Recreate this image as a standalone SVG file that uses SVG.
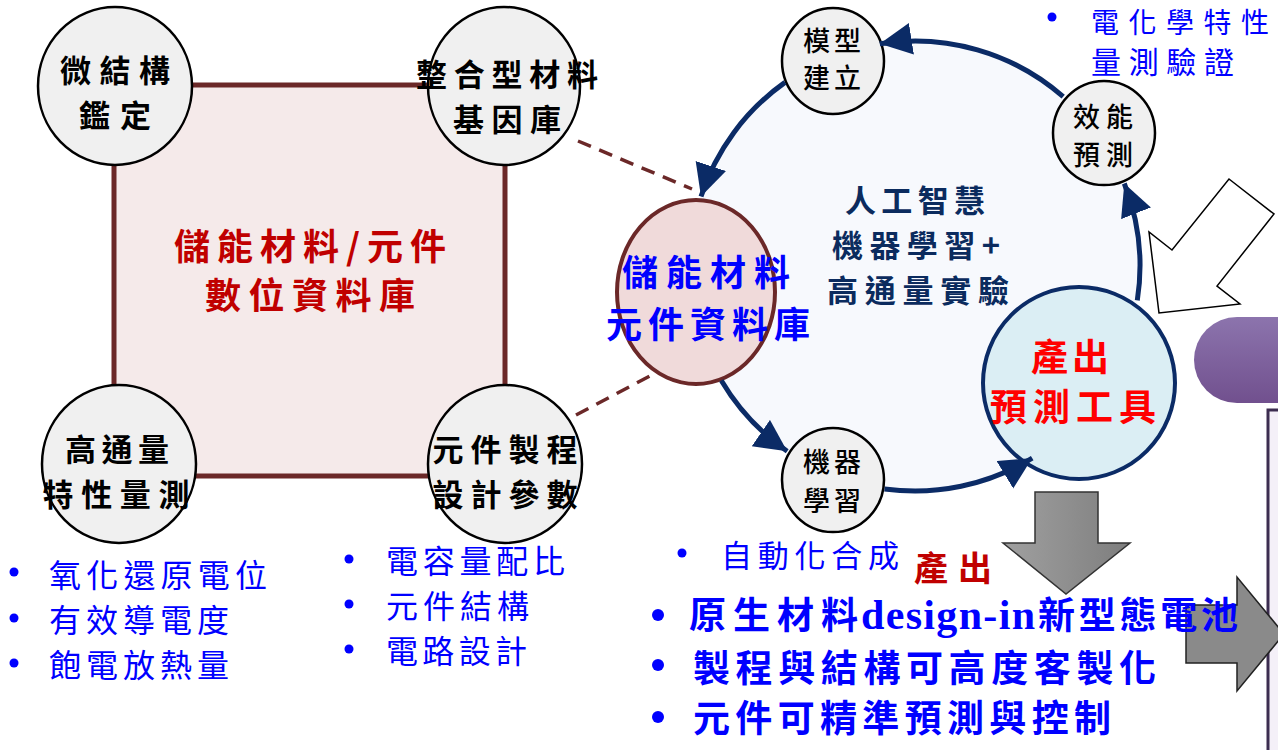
<svg xmlns="http://www.w3.org/2000/svg" width="1278" height="750" viewBox="0 0 1278 750">
<style>
.cjk{font-family:"Noto Sans CJK TC","Noto Sans CJK SC",sans-serif}
.node{fill:#f0f0f0;stroke:#000;stroke-width:2.5}
.lbl{font-family:"Noto Sans CJK TC",sans-serif;fill:#000;text-anchor:middle}
.blue{font-family:"Noto Sans CJK TC",sans-serif;fill:#0000ff}
.arc{fill:none;stroke:#0b2b66;stroke-width:5;marker-end:url(#ah)}
.dash{stroke:#6b2828;stroke-width:3.5;stroke-dasharray:14 9;fill:none}
.dot{fill:#0000ff}
</style>
<defs>
<marker id="ah" markerUnits="userSpaceOnUse" markerWidth="36" markerHeight="34" refX="32" refY="16" orient="auto">
<path d="M0,0 L32,16 L0,32 z" fill="#0b2b66"/>
</marker>
<linearGradient id="purp" x1="0" y1="0" x2="0" y2="1">
<stop offset="0" stop-color="#8c74ad"/><stop offset="1" stop-color="#71508e"/>
</linearGradient>
<linearGradient id="gray" x1="0" y1="0" x2="1" y2="0">
<stop offset="0" stop-color="#a0a0a0"/><stop offset="1" stop-color="#7e7e7e"/>
</linearGradient>
</defs>
<rect width="1278" height="750" fill="#fff"/>

<!-- right side decorations -->
<g id="purple-bar"><rect x="1194" y="317" width="140" height="86" rx="43" fill="url(#purp)"/></g>
<g id="side-box"><rect x="1268" y="410" width="40" height="400" fill="#f4f0f8" stroke="#3c2d50" stroke-width="3"/></g>
<g id="hollow-arrow"><polygon points="1229,179 1274,214 1217,286 1240,304 1159,313 1149,232 1172,250" fill="#fff" stroke="#000" stroke-width="1.5"/></g>
<g id="down-arrow"><polygon points="1035,492 1098,492 1098,543 1130,543 1066,594 1003,543 1035,543" fill="url(#gray)" stroke="#333" stroke-width="1.5"/></g>
<g id="right-arrow"><polygon points="1186,605 1237,605 1237,577 1284,634 1237,691 1237,663 1186,663" fill="#8a8a8a" stroke="#222" stroke-width="1.5"/></g>

<!-- cycle background -->
<circle cx="915" cy="266" r="225" fill="#f7f9fd"/>

<!-- left database square -->
<g id="db-square">
<rect x="114" y="85" width="391" height="391" fill="#f5eaea" stroke="#6b2828" stroke-width="5"/>
<text class="cjk" x="310" y="260" font-size="36" font-weight="bold" fill="#c00000" text-anchor="middle" textLength="272" lengthAdjust="spacing">儲能材料/元件</text>
<text class="cjk" x="310" y="309" font-size="36" font-weight="bold" fill="#c00000" text-anchor="middle" textLength="210" lengthAdjust="spacing">數位資料庫</text>
</g>

<g id="connectors">
<line class="dash" x1="578" y1="141" x2="692" y2="189"/>
<line class="dash" x1="576" y1="415" x2="665" y2="368"/>
</g>

<g id="n-micro"><ellipse class="node" cx="115" cy="86" rx="77" ry="79"/>
<text class="lbl" x="115" y="82" font-size="31" font-weight="bold" textLength="110" lengthAdjust="spacing">微結構</text>
<text class="lbl" x="115" y="127" font-size="31" font-weight="bold" textLength="72" lengthAdjust="spacing">鑑定</text></g>
<g id="n-gene"><ellipse class="node" cx="504" cy="86" rx="76" ry="79"/>
<text class="lbl" x="507" y="86" font-size="31" font-weight="bold" textLength="182" lengthAdjust="spacing">整合型材料</text>
<text class="lbl" x="507" y="131" font-size="31" font-weight="bold" textLength="108" lengthAdjust="spacing">基因庫</text></g>
<g id="n-ht"><ellipse class="node" cx="119" cy="464" rx="77" ry="79"/>
<text class="lbl" x="117" y="461" font-size="31" font-weight="bold" textLength="104" lengthAdjust="spacing">高通量</text>
<text class="lbl" x="116" y="506" font-size="31" font-weight="bold" textLength="147" lengthAdjust="spacing">特性量測</text></g>
<g id="n-proc"><ellipse class="node" cx="505" cy="464" rx="77" ry="79"/>
<text class="lbl" x="505" y="461" font-size="31" font-weight="bold" textLength="145" lengthAdjust="spacing">元件製程</text>
<text class="lbl" x="505" y="506" font-size="31" font-weight="bold" textLength="145" lengthAdjust="spacing">設計參數</text></g>

<g id="n-model"><ellipse class="node" cx="833" cy="61" rx="51" ry="53"/>
<text class="lbl" x="832" y="51" font-size="27" font-weight="500" textLength="58" lengthAdjust="spacing">模型</text>
<text class="lbl" x="832" y="88" font-size="27" font-weight="500" textLength="58" lengthAdjust="spacing">建立</text></g>
<g id="n-perf"><ellipse class="node" cx="1104" cy="133" rx="51" ry="52"/>
<text class="lbl" x="1103" y="127" font-size="27" font-weight="500" textLength="60" lengthAdjust="spacing">效能</text>
<text class="lbl" x="1103" y="165" font-size="27" font-weight="500" textLength="60" lengthAdjust="spacing">預測</text></g>
<g id="n-ml"><ellipse class="node" cx="833" cy="480" rx="51" ry="52"/>
<text class="lbl" x="832" y="472" font-size="27" font-weight="500" textLength="58" lengthAdjust="spacing">機器</text>
<text class="lbl" x="832" y="511" font-size="27" font-weight="500" textLength="58" lengthAdjust="spacing">學習</text></g>
<g id="n-db"><ellipse cx="696" cy="292" rx="79" ry="92" fill="#f0dada" stroke="#6b2828" stroke-width="4"/>
<text class="blue" x="706" y="286" font-size="36" font-weight="bold" text-anchor="middle" textLength="168" lengthAdjust="spacing">儲能材料</text>
<text class="blue" x="708" y="338" font-size="36" font-weight="bold" text-anchor="middle" textLength="204" lengthAdjust="spacing">元件資料庫</text></g>
<g id="n-tool"><circle cx="1079" cy="383" r="96" fill="#dbeef4" stroke="#0b2b66" stroke-width="4"/>
<text class="cjk" x="1070" y="371" font-size="37" font-weight="bold" fill="#ff0000" text-anchor="middle" textLength="78" lengthAdjust="spacing">產出</text>
<text class="cjk" x="1073" y="421" font-size="37" font-weight="bold" fill="#ff0000" text-anchor="middle" textLength="166" lengthAdjust="spacing">預測工具</text></g>

<g id="cycle-arrows">
<path class="arc" d="M1063.2,96.7 A225,225 0 0 0 879.8,43.8"/>
<path class="arc" d="M785,82.4 A225,225 0 0 0 701,196.5"/>
<path class="arc" d="M721.3,380.5 A225,225 0 0 0 787.2,451.2"/>
<path class="arc" d="M884.5,488.9 A225,225 0 0 0 1032.2,458.1"/>
<path class="arc" d="M1137.3,300.4 A225,225 0 0 0 1124.3,183.5"/>
</g>

<g id="center-text" fill="#0b2b5e" font-weight="bold" text-anchor="middle" class="cjk" font-size="31">
<text x="915" y="212" textLength="140" lengthAdjust="spacing">人工智慧</text>
<text x="916" y="257" textLength="168" lengthAdjust="spacing">機器學習+</text>
<text x="918" y="302" textLength="182" lengthAdjust="spacing">高通量實驗</text>
</g>

<g id="top-right-note">
<circle class="dot" cx="1052" cy="17" r="4.5"/>
<text class="blue" x="1091" y="33" font-size="28" textLength="178" lengthAdjust="spacing">電化學特性</text>
<text class="blue" x="1091" y="73" font-size="30" textLength="143" lengthAdjust="spacing">量測驗證</text>
</g>

<g id="left-bullets">
<circle class="dot" cx="14" cy="572" r="4.5"/>
<circle class="dot" cx="14" cy="618" r="4.5"/>
<circle class="dot" cx="14" cy="663" r="4.5"/>
<text class="blue" x="49" y="587" font-size="32" textLength="218" lengthAdjust="spacing">氧化還原電位</text>
<text class="blue" x="49" y="632" font-size="32" textLength="180" lengthAdjust="spacing">有效導電度</text>
<text class="blue" x="49" y="677" font-size="32" textLength="180" lengthAdjust="spacing">飽電放熱量</text>
</g>
<g id="mid-bullets">
<circle class="dot" cx="349" cy="559" r="4.5"/>
<circle class="dot" cx="349" cy="604" r="4.5"/>
<circle class="dot" cx="349" cy="649" r="4.5"/>
<text class="blue" x="386" y="573" font-size="32" textLength="179" lengthAdjust="spacing">電容量配比</text>
<text class="blue" x="386" y="618" font-size="32" textLength="143" lengthAdjust="spacing">元件結構</text>
<text class="blue" x="386" y="663" font-size="32" textLength="141" lengthAdjust="spacing">電路設計</text>
</g>
<g id="output-bullets">
<circle class="dot" cx="682" cy="553" r="4.5"/>
<text class="blue" x="721" y="567" font-size="31" textLength="178" lengthAdjust="spacing">自動化合成</text>
<text class="cjk" x="914" y="581" font-size="34" font-weight="bold" fill="#c00000" textLength="78" lengthAdjust="spacing">產出</text>
<circle class="dot" cx="658" cy="615" r="6"/>
<circle class="dot" cx="658" cy="665" r="6"/>
<circle class="dot" cx="658" cy="717" r="6"/>
<text class="blue" x="689" y="629" font-size="37" font-weight="bold" textLength="169" lengthAdjust="spacing">原生材料</text>
<text x="861" y="629" font-family="Liberation Serif,serif" font-size="42" font-weight="bold" fill="#0000ff" textLength="174" lengthAdjust="spacing">design-in</text>
<text class="blue" x="1038" y="629" font-size="37" font-weight="bold" textLength="200" lengthAdjust="spacing">新型態電池</text>
<text class="blue" x="693" y="682" font-size="37" font-weight="bold" textLength="463" lengthAdjust="spacing">製程與結構可高度客製化</text>
<text class="blue" x="693" y="732" font-size="37" font-weight="bold" textLength="418" lengthAdjust="spacing">元件可精準預測與控制</text>
</g>
</svg>
